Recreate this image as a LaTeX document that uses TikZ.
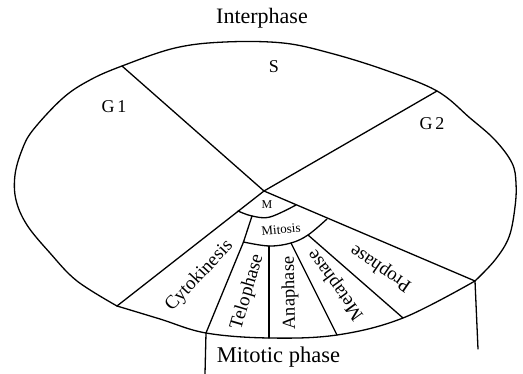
\documentclass[tikz,border=0pt]{standalone}
\usepackage{fontspec}
\setmainfont{Liberation Serif}
\begin{document}
\begin{tikzpicture}[x=1pt,y=-1pt,
  ln/.style={line width=1.3pt, line join=round, line cap=round},
  lab/.style={inner sep=0pt, font=\fontsize{#1}{#1}\selectfont},
  lab/.default=19]
\useasboundingbox (0,0) rectangle (523,374);
% key points
\coordinate (C) at (264,191);
\coordinate (T1) at (122,66);
\coordinate (T2) at (437,91);
\coordinate (L) at (117,306);
\coordinate (R) at (475,281);
\coordinate (B1) at (206,333);
\coordinate (B2) at (269,338);
\coordinate (B3) at (337,335);
\coordinate (B4) at (403,318);
\coordinate (Ml) at (238,211);
\coordinate (Mr) at (296,205);
\coordinate (Ma) at (252,216);
\coordinate (Mb) at (243.5,242);
\coordinate (A1) at (269,246);
\coordinate (A2) at (291,243);
\coordinate (A3) at (308,235);
\coordinate (Mc) at (327,219);
\coordinate (V1) at (205,374);
\coordinate (V2) at (478,349);
% outline upper part
\draw[ln] plot[smooth, tension=0.6] coordinates {(L) (77,281) (50,253) (27,225) (16,200) (15,175) (22,150) (33,130) (63,98) (90,80) (T1) (175,48) (225,42) (283,43) (330,53) (385,70) (T2) (470,118) (495,140) (512,163) (516,183) (515,207) (509,237) (495,260) (R)};
% outline bottom part
\draw[ln] plot[smooth, tension=0.6] coordinates {(R) (B4) (B3) (B2) (B1) (160,319) (L)};
% interphase dividers
\draw[ln] (T1) -- (C) -- (T2);
\draw[ln] (L) -- (C) -- (R);
% M arc
\draw[ln] plot[smooth, tension=0.6] coordinates {(Ml) (Ma) (270,217) (Mr)};
% Mitosis arc
\draw[ln] plot[smooth, tension=0.6] coordinates {(Mb) (A1) (A2) (A3) (Mc)};
\draw[ln] (Ma) -- (Mb);
% sector lines
\draw[ln] (Mb) -- (B1);
\draw[ln] (A1) -- (B2);
\draw[ln] (A2) -- (B3);
\draw[ln] (A3) -- (B4);
% verticals
\draw[ln] (B1) -- (V1);
\draw[ln] (R) -- (V2);
% labels
\node[lab=22] (inter) at (262,18.5) {Interphase};
\node[lab=22.5] (mit) at (278.5,357) {Mitotic phase};
\node[lab=18] (s) at (274,67) {S};
\node[lab=18] (g1) at (114,107) {G\,1};
\node[lab=18] (g2) at (432,124) {G\,2};
\node[lab=12] (m) at (267,205) {M};
\node[lab=13, rotate=5] (mitosis) at (281,229.5) {Mitosis};
\node[lab=19, rotate=47] (cyto) at (199.5,276) {Cytokinesis};
\node[lab=19, rotate=73.5] (telo) at (247.5,292) {Telophase};
\node[lab=18.5, rotate=91] (ana) at (290,293) {Anaphase};
\node[lab=19, rotate=126] (meta) at (336,284.5) {Metaphase};
\node[lab=19, rotate=145.5] (pro) at (381,268) {Prophase};
\end{tikzpicture}
\end{document}
